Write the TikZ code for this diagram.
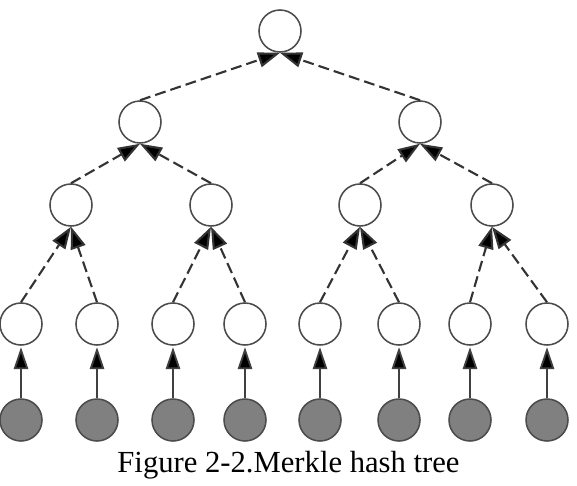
\documentclass[tikz,border=0pt]{standalone}
\usepackage{amsmath}
\usepackage{fontspec}
\setmainfont{Liberation Serif}
\usepackage{tikz}
\usetikzlibrary{arrows.meta}

\begin{document}
\begin{tikzpicture}[
		scale=1,
		every node/.style={circle, draw=black!70, line width=1.1pt, minimum size=1.05cm, inner sep=0pt},
		leaf/.style={fill=black!50},
		hashedge/.style={draw=black!80, line width=1.5pt, dash pattern=on 7.8pt off 3.6pt, -{Triangle[length=0.55cm, width=0.38cm, fill=black]}},
		dataedge/.style={draw=black!75, line width=1.3pt, shorten >=1pt, -{Triangle[length=0.55cm, width=0.36cm, fill=black]}}
	]
  \useasboundingbox (0cm, 0cm) rectangle (14.425cm, -12.15cm);
  \node (root) at (7cm, -0.775cm) {};
  \node (h_1) at (3.5cm, -3.05cm) {};
  \node (h_2) at (10.5cm, -3.05cm) {};
  \node (h_11) at (1.775cm, -5.125cm) {};
  \node (h_12) at (5.275cm, -5.125cm) {};
  \node (h_21) at (9cm, -5.125cm) {};
  \node (h_22) at (12.3cm, -5.125cm) {};
  \node (h_111) at (0.525cm, -8.1cm) {};
  \node (h_112) at (2.425cm, -8.1cm) {};
  \node (h_121) at (4.325cm, -8.1cm) {};
  \node (h_122) at (6.125cm, -8.1cm) {};
  \node (h_211) at (8cm, -8.1cm) {};
  \node (h_212) at (9.975cm, -8.1cm) {};
  \node (h_221) at (11.75cm, -8.1cm) {};
  \node (h_222) at (13.675cm, -8.1cm) {};
  \node (d_1) [leaf] at (0.525cm, -10.5cm) {};
  \node (d_2) [leaf] at (2.425cm, -10.5cm) {};
  \node (d_3) [leaf] at (4.325cm, -10.5cm) {};
  \node (d_4) [leaf] at (6.125cm, -10.5cm) {};
  \node (d_5) [leaf] at (8cm, -10.5cm) {};
  \node (d_6) [leaf] at (9.975cm, -10.5cm) {};
  \node (d_7) [leaf] at (11.75cm, -10.5cm) {};
  \node (d_8) [leaf] at (13.675cm, -10.5cm) {};
  \node (caption) [draw=none, rectangle, anchor=base, font=\fontsize{21.8}{25}\selectfont] at (7.2125cm, -11.8cm) {Figure 2-2.Merkle hash tree};
  % hash links
  \draw (h_1.north) edge [hashedge] (root.south);
  \draw (h_2.north) edge [hashedge] (root.south);
  \draw (h_11.north) edge [hashedge] (h_1.south);
  \draw (h_12.north) edge [hashedge] (h_1.south);
  \draw (h_21.north) edge [hashedge] (h_2.south);
  \draw (h_22.north) edge [hashedge] (h_2.south);
  \draw (h_111.north) edge [hashedge] (h_11.south);
  \draw (h_112.north) edge [hashedge] (h_11.south);
  \draw (h_121.north) edge [hashedge] (h_12.south);
  \draw (h_122.north) edge [hashedge] (h_12.south);
  \draw (h_211.north) edge [hashedge] (h_21.south);
  \draw (h_212.north) edge [hashedge] (h_21.south);
  \draw (h_221.north) edge [hashedge] (h_22.south);
  \draw (h_222.north) edge [hashedge] (h_22.south);
  % data blocks
  \draw (d_1) edge [dataedge] (h_111);
  \draw (d_2) edge [dataedge] (h_112);
  \draw (d_3) edge [dataedge] (h_121);
  \draw (d_4) edge [dataedge] (h_122);
  \draw (d_5) edge [dataedge] (h_211);
  \draw (d_6) edge [dataedge] (h_212);
  \draw (d_7) edge [dataedge] (h_221);
  \draw (d_8) edge [dataedge] (h_222);
\end{tikzpicture}
\end{document}
